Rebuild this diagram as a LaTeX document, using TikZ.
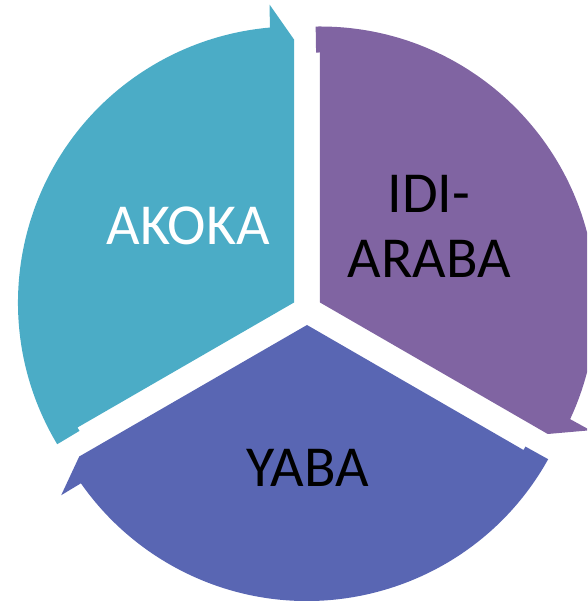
\documentclass[tikz,border=0pt]{standalone}
\usepackage{fontspec}
\setmainfont{Carlito}
\usetikzlibrary{calc}
\definecolor{segcyan}{HTML}{4BACC6}
\definecolor{segpurple}{HTML}{8064A2}
\definecolor{segblue}{HTML}{5966B3}
\tikzset{
  seglabel/.style={font=\fontsize{58}{65}\selectfont, inner sep=0pt, align=center},
}
% segment: #1 apex, #2 bisector angle, #3 colour
\newcommand{\cycseg}[3]{%
  \pgfmathsetmacro{\ta}{#2+60}%
  \pgfmathsetmacro{\tb}{#2+60.9}%
  \pgfmathsetmacro{\tc}{#2-55}%
  \pgfmathsetmacro{\td}{#2-55.3}%
  \pgfmathsetmacro{\te}{#2-60}%
  \fill[#3] (#1) -- ($(#1)+(\ta:250)$) -- ($(#1)+(\tb:250)$) -- ($(#1)+(\tb:276)$)
    arc[start angle=\tb, end angle=\tc, radius=276pt]
    -- ($(#1)+(\td:299)$) -- ($(#1)+(\te:263)$) -- cycle;%
}
\begin{document}
\begin{tikzpicture}[x=1pt,y=1pt]
\clip (0,0) rectangle (587,601);
\coordinate (C) at (307,291);
\coordinate (Acyan) at ($(C)+(150:15)$);
\coordinate (Apurple) at ($(C)+(30:15)$);
\coordinate (Ablue) at ($(C)+(270:15)$);
\cycseg{Acyan}{150}{segcyan}
\cycseg{Apurple}{30}{segpurple}
\cycseg{Ablue}{-90}{segblue}
\node[seglabel, text=white, anchor=base] (akoka) at (188.5,356) {AKOKA};
\node[seglabel, text=black, anchor=base] (idi) at (429,323) {IDI-\\ARABA};
\node[seglabel, text=black, anchor=base] (yaba) at (308,114) {YABA};
\end{tikzpicture}
\end{document}
